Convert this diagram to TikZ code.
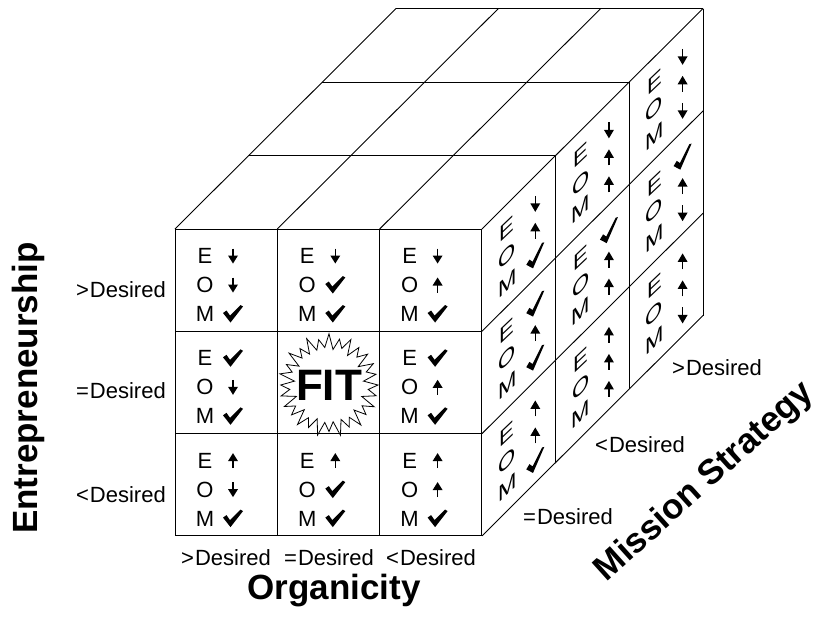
\documentclass[tikz,border=0pt]{standalone}
\usepackage{fontspec}
\setmainfont{Liberation Sans}
\usetikzlibrary{arrows.meta}
\newcommand\frontcell[5]{%
  \pgfmathsetmacro\xl{175+102.3*#1}%
  \pgfmathsetmacro\yt{229+102.3*#2}%
  \node[lett] (fE#1#2) at ({\xl+30},{\yt+27}) {E};
  \node[lett] (fO#1#2) at ({\xl+30},{\yt+56}) {O};
  \node[lett] (fM#1#2) at ({\xl+30},{\yt+85}) {M};
  \pic at ({\xl+58},{\yt+27}) {#3};
  \pic at ({\xl+58},{\yt+56}) {#4};
  \pic at ({\xl+58},{\yt+85}) {#5};
}
\newcommand\sidecell[5]{%
  \pgfmathsetmacro\fa{102.3*#1}%
  \pgfmathsetmacro\fb{102.3*#2}%
  \pgfmathsetmacro\lx{482+0.72*(\fa+35)}%
  \pgfmathsetmacro\ly{229-0.7185*(\fa+35)+\fb}%
  \pgfmathsetmacro\ax{482+0.72*(\fa+74)}%
  \pgfmathsetmacro\ay{229-0.7185*(\fa+74)+\fb}%
  \node[lett,sideshear] (sE#1#2) at (\lx,{\ly+25}) {E};
  \node[lett,sideshear] (sO#1#2) at (\lx,{\ly+52}) {O};
  \node[lett,sideshear] (sM#1#2) at (\lx,{\ly+79}) {M};
  \pic at (\ax,{\ay+28}) {side#3};
  \pic at (\ax,{\ay+55}) {side#4};
  \pic at (\ax,{\ay+82}) {side#5};
}
\begin{document}
\begin{tikzpicture}[x=1pt,y=-1pt,
  edge/.style={line width=0.9pt, line join=round},
  lett/.style={inner sep=0pt, font=\fontsize{22}{22}\selectfont},
  lab/.style={inner sep=0pt, font=\fontsize{22}{22}\selectfont},
  head/.style={inner sep=0pt, font=\bfseries\fontsize{35}{35}\selectfont},
  sideshear/.style={cm={1,0.95,0,1,(0pt,0pt)}},
  pics/arrdn/.style={code={\draw[line width=1.3pt] (0,-7.5) -- (0,0); \fill (-5,-0.5) -- (5,-0.5) -- (0,7.5) -- cycle;}},
  pics/arrup/.style={code={\draw[line width=1.3pt] (0,7.5) -- (0,0); \fill (-5,0.5) -- (5,0.5) -- (0,-7.5) -- cycle;}},
  pics/chk/.style={code={\fill (-10,-1) -- (-6.5,-3.5) -- (-3,1.5) -- (7.5,-9) -- (10,-7.5) -- (-2.5,8.5) -- cycle;}},
  pics/sidearrdn/.style={code={\draw[line width=1.3pt] (0,-8) -- (0,0); \fill (-5,-0.5) -- (5,-0.5) -- (0,8) -- cycle;}},
  pics/sidearrup/.style={code={\draw[line width=1.3pt] (0,8) -- (0,0); \fill (-5,0.5) -- (5,0.5) -- (0,-8) -- cycle;}},
  pics/sidechk/.style={code={\fill[cm={0.9,0.8,0,1,(0pt,0pt)}] (-10,-1) -- (-6.5,-3.5) -- (-3,1.5) -- (7.5,-9) -- (10,-7.5) -- (-2.5,8.5) -- cycle;}},
]
\useasboundingbox (0,0) rectangle (822,625);
\fill[white] (0,0) rectangle (822,625);

% front face grid
\foreach \i in {0,...,3} {
  \draw[edge] ({175+102.3*\i},229) -- ({175+102.3*\i},536);
  \draw[edge] (175,{229+102.3*\i}) -- (482,{229+102.3*\i});
}
% top face grid
\foreach \j in {1,...,3} {
  \draw[edge] ({175+73.7*\j},{229-73.5*\j}) -- ({482+73.7*\j},{229-73.5*\j});
}
\foreach \i in {0,...,3} {
  \draw[edge] ({175+102.3*\i},229) -- ({175+102.3*\i+221.1},{229-220.5});
}
% right face grid
\foreach \j in {1,...,3} {
  \draw[edge] ({482+73.7*\j},{229-73.5*\j}) -- ({482+73.7*\j},{536-73.5*\j});
}
\foreach \r in {1,...,3} {
  \draw[edge] (482,{229+102.3*\r}) -- (703.1,{229+102.3*\r-220.5});
}

% front face cells
\frontcell{0}{0}{arrdn}{arrdn}{chk}
\frontcell{1}{0}{arrdn}{chk}{chk}
\frontcell{2}{0}{arrdn}{arrup}{chk}
\frontcell{0}{1}{chk}{arrdn}{chk}
\frontcell{2}{1}{chk}{arrup}{chk}
\frontcell{0}{2}{arrup}{arrdn}{chk}
\frontcell{1}{2}{arrup}{chk}{chk}
\frontcell{2}{2}{arrup}{arrup}{chk}

% FIT starburst
\draw[line width=0.8pt, fill=white] (329+49,385)
  \foreach \k in {1,...,55} {
    -- ({329+(37+12*(1-mod(\k,2))+2.5*sin(\k*97))*cos(6.428571*\k)},
        {385+(37+12*(1-mod(\k,2))+2.5*sin(\k*97))*sin(6.428571*\k)})
  } -- cycle;
\node[inner sep=0pt, font=\bfseries\fontsize{44}{44}\selectfont] (fit) at (329,385) {FIT};

% right face cells
\sidecell{0}{0}{arrdn}{arrup}{chk}
\sidecell{0}{1}{chk}{arrup}{chk}
\sidecell{0}{2}{arrup}{arrup}{chk}
\sidecell{1}{0}{arrdn}{arrup}{arrup}
\sidecell{1}{1}{chk}{arrup}{arrup}
\sidecell{1}{2}{arrup}{arrup}{arrup}
\sidecell{2}{0}{arrdn}{arrup}{arrdn}
\sidecell{2}{1}{chk}{arrup}{arrdn}
\sidecell{2}{2}{arrup}{arrup}{arrdn}

% level labels
\node[lab, anchor=east] (eHi) at (166,290) {>\kern1pt Desired};
\node[lab, anchor=east] (eEq) at (166,391) {=\kern1pt Desired};
\node[lab, anchor=east] (eLo) at (166,495) {<\kern1pt Desired};
\node[lab] (oHi) at (226,558) {>\kern1pt Desired};
\node[lab] (oEq) at (329,558) {=\kern1pt Desired};
\node[lab] (oLo) at (431,558) {<\kern1pt Desired};
\node[lab, anchor=west] (mEq) at (523,517) {=\kern1pt Desired};
\node[lab, anchor=west] (mLo) at (595,445) {<\kern1pt Desired};
\node[lab, anchor=west] (mHi) at (672,368) {>\kern1pt Desired};

% axis titles
\node[head, rotate=90] (ent) at (28,388) {Entrepreneurship};
\node[head] (org) at (334,591) {Organicity};
\node[head, rotate=42] (mis) at (705,482) {Mission Strategy};
\end{tikzpicture}
\end{document}
